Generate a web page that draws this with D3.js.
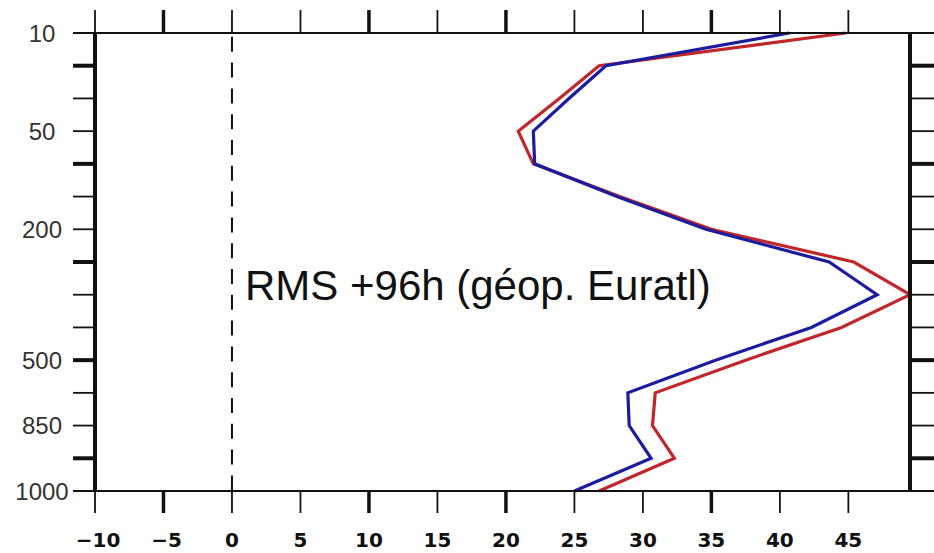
<!DOCTYPE html>
<html>
<head>
<meta charset="utf-8">
<script src="https://cdn.jsdelivr.net/npm/d3@7"></script>
<style>
  html, body { margin: 0; padding: 0; background: #fff; }
  svg { display: block; }
</style>
</head>
<body>
<div class="chart"></div>
<script>
// data
const levels = ['10', '20', '30', '50', '100', '150', '200', '250', '300', '400', '500', '700', '850', '925', '1000']
const levelLabels = ['10', '50', '200', '500', '850', '1000']
const rmsBlue = [40.7, 27.3, 24.6, 22.0, 22.1, 28.1, 34.6, 43.6, 47.1, 42.3, 35.3, 28.9, 29.0, 30.6, 25.0]
const rmsRed = [44.8, 26.8, 23.9, 20.9, 22.0, 28.3, 35.0, 45.4, 49.5, 44.5, 37.5, 30.9, 30.7, 32.3, 26.8]
const xTicks = [-10, -5, 0, 5, 10, 15, 20, 25, 30, 35, 40, 45]
const thickXTicks = [-5, 10, 20, 35]
const title = 'RMS +96h (géop. Euratl)'

// sizes
const width = 934
const height = 553
const plot = { left: 95, right: 910, top: 33, bottom: 491 }
const tickLen = 23

const svg = d3.select('.chart')
  .append('svg')
  .attr('width', width)
  .attr('height', height)

svg.append('rect')
  .attr('width', width)
  .attr('height', height)
  .attr('fill', '#fff')

// scales
const x = d3.scaleLinear()
  .domain([-10, d3.max(rmsRed)])
  .range([plot.left, plot.right])

const y = d3.scalePoint()
  .domain(levels)
  .range([plot.top, plot.bottom])

const thickY = (d, i) => i % 3 === 1

// zero line
svg.append('line')
  .attr('x1', x(0)).attr('x2', x(0))
  .attr('y1', plot.top).attr('y2', plot.bottom)
  .attr('stroke', '#111')
  .attr('stroke-width', 2)
  .attr('stroke-dasharray', '15,10.8')
  .attr('stroke-dashoffset', 22)

// curves
const line = d3.line()
  .x(d => x(d.v))
  .y(d => y(d.level))

const series = [
  { name: 'red', color: '#c0262a', values: rmsRed },
  { name: 'blue', color: '#1c1c9e', values: rmsBlue }
]

svg.selectAll('path.curve')
  .data(series)
  .enter()
  .append('path')
  .attr('class', 'curve')
  .attr('fill', 'none')
  .attr('stroke', s => s.color)
  .attr('stroke-width', 3.2)
  .attr('stroke-linejoin', 'miter')
  .attr('d', s => line(s.values.map((v, i) => ({ v, level: levels[i] }))))

// frame
const frame = svg.append('g').attr('stroke', '#111')

frame.selectAll('line.h')
  .data([plot.top, plot.bottom])
  .enter()
  .append('line')
  .attr('x1', 73).attr('x2', width)
  .attr('y1', d => d).attr('y2', d => d)
  .attr('stroke-width', 2)

frame.selectAll('line.v')
  .data([plot.left, plot.right])
  .enter()
  .append('line')
  .attr('x1', d => d).attr('x2', d => d)
  .attr('y1', plot.top).attr('y2', plot.bottom)
  .attr('stroke-width', 4)

// x ticks, top and bottom
const xTickW = d => thickXTicks.includes(d) ? 3.5 : 1.8

frame.selectAll('line.xt-top')
  .data(xTicks)
  .enter()
  .append('line')
  .attr('x1', d => x(d)).attr('x2', d => x(d))
  .attr('y1', plot.top - tickLen).attr('y2', plot.top)
  .attr('stroke-width', xTickW)

frame.selectAll('line.xt-bottom')
  .data(xTicks)
  .enter()
  .append('line')
  .attr('x1', d => x(d)).attr('x2', d => x(d))
  .attr('y1', plot.bottom).attr('y2', plot.bottom + 22)
  .attr('stroke-width', xTickW)

// y ticks, left and right
frame.selectAll('line.yt-left')
  .data(levels)
  .enter()
  .append('line')
  .attr('x1', plot.left - 22).attr('x2', plot.left)
  .attr('y1', d => y(d)).attr('y2', d => y(d))
  .attr('stroke-width', (d, i) => thickY(d, i) ? 4 : 1.8)

frame.selectAll('line.yt-right')
  .data(levels)
  .enter()
  .append('line')
  .attr('x1', plot.right).attr('x2', width)
  .attr('y1', d => y(d)).attr('y2', d => y(d))
  .attr('stroke-width', (d, i) => thickY(d, i) ? 4 : 1.8)

// labels
svg.selectAll('text.xl')
  .data(xTicks)
  .enter()
  .append('text')
  .attr('x', d => x(d) + (d < 0 ? 3 : 0))
  .attr('y', 547)
  .attr('text-anchor', 'middle')
  .attr('font-family', 'DejaVu Sans, sans-serif')
  .attr('font-weight', 'bold')
  .attr('font-size', 20)
  .attr('fill', '#111')
  .text(d => d < 0 ? '\u2212' + Math.abs(d) : d)

svg.selectAll('text.yl')
  .data(levelLabels)
  .enter()
  .append('text')
  .attr('x', 42)
  .attr('y', d => y(d))
  .attr('dy', '0.36em')
  .attr('text-anchor', 'middle')
  .attr('font-family', 'Liberation Sans, Arial, sans-serif')
  .attr('font-size', 24)
  .attr('fill', '#333')
  .text(d => d)

svg.append('text')
  .attr('x', 245)
  .attr('y', 300)
  .attr('font-family', 'Liberation Sans, Arial, sans-serif')
  .attr('font-size', 42)
  .attr('fill', '#111')
  .text(title)
</script>
</body>
</html>
